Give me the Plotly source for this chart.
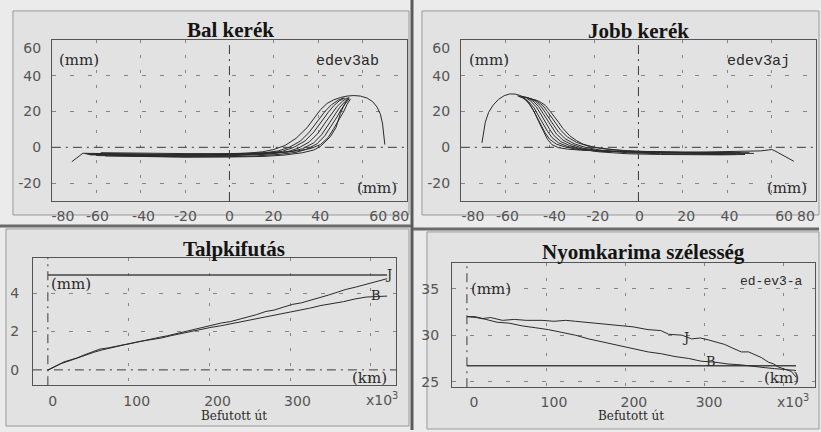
import plotly.graph_objects as go

W, H = 821, 432

# ---------------- Bal kerék: kerékprofilok (mm) ----------------
BAL_X1 = [-71, -68, -66, -60, -50, -40, -30, -20, -10, 0, 8, 15, 20, 25, 30, 35, 38, 41, 44, 47, 50, 53, 56, 59, 62, 64.5, 66.5, 68, 69, 69.6, 70]
BAL_Y1 = [-8, -5, -3.3, -3.5, -3.8, -4.0, -4.2, -4.3, -4.2, -3.9, -3.3, -2.5, -1.2, 1.0, 5.0, 11.0, 16.0, 21.0, 24.5, 26.5, 27.8, 28.6, 28.9, 28.6, 27.5, 25.5, 22.5, 18.5, 13.0, 7.0, 1.5]
BAL_X2 = [-65, -50, -30, -10, 5, 15, 22, 27, 32, 36, 40, 43, 46, 49, 51.5]
BAL_Y2 = [-3.6, -4.0, -4.4, -4.4, -4.0, -3.2, -2.0, 0.0, 3.5, 8.5, 15.0, 20.0, 23.8, 26.3, 27.6]
BAL_X3 = [-64, -50, -30, -10, 5, 15, 24, 29, 34, 38, 41.5, 44.5, 47, 49.5, 52]
BAL_Y3 = [-3.9, -4.3, -4.7, -4.7, -4.3, -3.6, -2.2, 0.0, 3.5, 8.5, 14.5, 19.5, 23.2, 26.0, 27.5]
BAL_X4 = [-63, -45, -25, -5, 8, 18, 26, 31, 36, 40, 43, 46, 48.5, 51, 53]
BAL_Y4 = [-4.2, -4.6, -5.0, -4.9, -4.5, -3.8, -2.5, -0.5, 3.0, 8.0, 13.5, 18.8, 22.8, 25.8, 27.6]
BAL_X5 = [-62, -45, -25, -5, 10, 20, 28, 33, 38, 41.5, 44.5, 47, 49.5, 52, 54]
BAL_Y5 = [-3.4, -3.8, -4.0, -4.1, -3.8, -3.3, -2.3, -0.8, 2.5, 7.0, 12.5, 17.5, 22.0, 25.5, 27.8]
BAL_X6 = [-60, -40, -20, 0, 12, 22, 30, 35, 39.5, 43, 46, 48.5, 50.5, 52.5, 54]
BAL_Y6 = [-4.6, -5.0, -5.3, -5.2, -4.8, -4.0, -2.8, -1.0, 2.0, 6.5, 12.0, 17.0, 21.5, 25.0, 27.2]
BAL_X7 = [-58, -40, -20, 0, 14, 24, 32, 37, 41, 44.5, 47, 49.5, 51.5, 53, 54.5]
BAL_Y7 = [-3.0, -3.3, -3.5, -3.5, -3.3, -2.8, -1.8, -0.5, 1.5, 5.5, 10.5, 15.5, 20.0, 24.0, 27.0]
BAL_X8 = [-56, -40, -20, 0, 15, 25, 33, 38, 41, 43.5, 45.5, 48, 50, 52, 53.6]
BAL_Y8 = [-4.8, -5.2, -5.5, -5.4, -5.1, -4.3, -3.0, -1.5, 0.5, 3.5, 6.0, 11.0, 19.0, 24.5, 28.0]

# ---------------- Jobb kerék: kerékprofilok (mm) ----------------
JOBB_X1 = [-70.5, -69.8, -69, -67.5, -65.5, -63, -60.5, -58, -55.5, -53, -51, -49, -47, -45, -43, -41, -39, -36, -32, -26, -15, 0, 15, 30, 45, 55, 58.5, 60, 61.5, 64, 67, 70]
JOBB_Y1 = [2.5, 8, 14, 19.5, 23.5, 26.8, 28.8, 29.8, 29.7, 28.8, 27.0, 24.0, 20.0, 14.5, 9.0, 4.5, 1.5, -0.2, -1.0, -1.6, -2.2, -2.5, -2.6, -2.6, -2.4, -2.0, -1.5, -1.2, -2.0, -3.8, -5.8, -7.8]
JOBB_X2 = [-54.5, -52, -50, -48, -46, -44, -42, -40, -37, -33, -28, -20, -5, 10, 25, 40, 52]
JOBB_Y2 = [28.8, 27.5, 25.5, 22.0, 17.5, 12.5, 8.0, 4.5, 1.8, 0.2, -1.0, -2.0, -2.8, -3.2, -3.4, -3.5, -3.4]
JOBB_X3 = [-54, -51.5, -49.5, -47, -45, -43, -41, -39, -36, -32, -27, -20, -5, 10, 25, 40, 50]
JOBB_Y3 = [28.5, 27.5, 25.5, 22.0, 17.5, 13.0, 9.0, 5.5, 2.5, 0.5, -0.8, -1.8, -2.5, -2.9, -3.1, -3.2, -3.0]
JOBB_X4 = [-53, -50.5, -48.5, -46, -44, -42, -40, -38, -35, -31, -26, -18, -5, 10, 25, 38, 48]
JOBB_Y4 = [28.6, 27.6, 25.8, 22.5, 18.5, 14.0, 10.0, 6.5, 3.2, 1.0, -0.8, -2.5, -3.6, -4.0, -4.2, -4.2, -4.0]
JOBB_X5 = [-52, -49.5, -47.5, -45, -43, -41, -39, -37, -34, -30, -25, -18, -5, 10, 25, 36, 46]
JOBB_Y5 = [28.4, 27.5, 25.8, 22.8, 19.0, 15.0, 11.0, 7.5, 4.0, 1.5, -0.5, -1.8, -2.6, -3.0, -3.1, -3.1, -3.0]
JOBB_X6 = [-51, -48.5, -46.5, -44, -42, -40, -38, -36, -33, -29, -24, -16, -5, 10, 22, 34, 44]
JOBB_Y6 = [28.0, 27.2, 25.8, 23.0, 19.5, 15.5, 12.0, 8.5, 4.8, 2.0, 0.0, -1.8, -3.0, -3.6, -3.9, -4.0, -3.9]
JOBB_X7 = [-50, -47.5, -45.5, -43, -41, -39, -37, -35, -32, -28, -23, -16, -5, 8, 20, 32, 42]
JOBB_Y7 = [27.5, 26.8, 25.6, 23.2, 20.0, 16.5, 13.0, 9.5, 5.8, 2.8, 0.8, -0.8, -2.0, -2.6, -2.9, -3.0, -3.0]
JOBB_X8 = [-49, -46.5, -44.5, -42, -40, -38, -36, -34, -31, -28, -25, -20, -10, 0, 12, 24, 38]
JOBB_Y8 = [27.0, 26.5, 25.5, 23.5, 20.5, 17.5, 14.0, 10.5, 6.5, 3.8, 1.8, 0.0, -1.5, -2.3, -2.8, -3.0, -3.1]

# ---------------- Talpkifutás (mm) a befutott út függvényében (x10^3 km) ----------------
TALP_J_KM = [0, 5, 12, 20, 28, 36, 45, 55, 64, 75, 85, 95, 101, 110, 120, 130, 138, 148, 158, 171, 180, 190, 204, 215, 226, 237, 248, 258, 270, 280, 292, 303, 314, 325, 336, 347, 358, 369, 381, 393, 402, 410, 416, 420]
TALP_J_MM = [0.0, 0.12, 0.25, 0.42, 0.5, 0.62, 0.78, 0.92, 1.08, 1.15, 1.25, 1.32, 1.36, 1.45, 1.55, 1.62, 1.7, 1.78, 1.88, 2.0, 2.1, 2.2, 2.36, 2.45, 2.52, 2.64, 2.78, 2.88, 3.05, 3.12, 3.28, 3.42, 3.5, 3.62, 3.78, 3.9, 4.05, 4.2, 4.32, 4.46, 4.55, 4.66, 4.72, 4.76]
TALP_B_KM = [0, 8, 16, 25, 35, 46, 57, 68, 80, 92, 104, 116, 128, 140, 152, 165, 178, 190, 202, 214, 226, 240, 254, 268, 282, 296, 310, 324, 338, 352, 366, 380, 394, 408, 420]
TALP_B_MM = [-0.02, 0.15, 0.32, 0.45, 0.6, 0.78, 0.92, 1.05, 1.18, 1.3, 1.4, 1.5, 1.58, 1.66, 1.78, 1.9, 2.02, 2.12, 2.22, 2.3, 2.4, 2.5, 2.6, 2.72, 2.86, 2.98, 3.08, 3.22, 3.36, 3.46, 3.56, 3.7, 3.8, 3.83, 3.85]
TALP_LIMIT_KM = [0, 420]
TALP_LIMIT_MM = [4.95, 4.95]

# ---------------- Nyomkarima szélesség (mm) ----------------
NYOM_J_KM = [0, 10, 20, 30, 45, 60, 75, 95, 110, 125, 137, 150, 163, 178, 196, 210, 229, 245, 255, 263, 272, 284, 295, 305, 315, 326, 336, 347, 356, 364, 372, 381, 388, 393, 402, 410, 416]
NYOM_J_MM = [32.0, 32.0, 31.8, 31.9, 31.6, 31.7, 31.6, 31.6, 31.5, 31.6, 31.5, 31.4, 31.3, 31.2, 31.0, 30.9, 30.6, 30.5, 30.1, 30.05, 30.0, 29.6, 29.7, 29.5, 29.3, 29.0, 28.6, 28.2, 28.2, 27.9, 27.6, 27.1, 26.9, 26.6, 26.3, 26.1, 25.5]
NYOM_B_KM = [0, 12, 24, 38, 53, 70, 87, 103, 120, 137, 154, 175, 196, 212, 229, 246, 263, 280, 296, 313, 330, 347, 364, 377, 389, 402, 416]
NYOM_B_MM = [32.0, 31.9, 31.7, 31.4, 31.3, 31.0, 30.8, 30.6, 30.3, 30.0, 29.6, 29.2, 28.8, 28.5, 28.2, 28.0, 27.7, 27.5, 27.2, 27.1, 26.9, 26.8, 26.6, 26.5, 26.4, 26.3, 26.2]
NYOM_LIMIT_KM = [0, 416]
NYOM_LIMIT_MM = [26.7, 26.7]

# ---------------- Feliratok ----------------
TITLES = ["Bal kerék", "Jobb kerék", "Talpkifutás", "Nyomkarima szélesség"]
CODES = ["edev3ab", "edev3aj", "ed-ev3-a"]
PROFILE_X_LABELS = ["-80", "-60", "-40", "-20", "0", "20", "40", "60", "80"]
PROFILE_Y_LABELS = ["60", "40", "20", "0", "-20"]
KM_X_LABELS = ["0", "100", "200", "300"]
TALP_Y_LABELS = ["4", "2", "0"]
NYOM_Y_LABELS = ["35", "30", "25"]


def fx(px):
    return px / W


def fy(py):
    return 1 - py / H


SERIF = "DejaVu Serif"
TITLE_SERIF = "Liberation Serif"
SANS = "DejaVu Sans"
MONO = "Liberation Mono"
INK = "#2a2a2a"
TICK_FONT = dict(family=SANS, size=14, color="#555555")
GRID_COLOR = "#858585"
H_DASH = "4px,14px"
V_DASH = "3px,12px"
CENTER_DASH = "9px,5px,2px,5px"

fig = go.Figure()

LINE = dict(color=INK, width=1)

bal = [(BAL_X1, BAL_Y1), (BAL_X2, BAL_Y2), (BAL_X3, BAL_Y3), (BAL_X4, BAL_Y4),
       (BAL_X5, BAL_Y5), (BAL_X6, BAL_Y6), (BAL_X7, BAL_Y7), (BAL_X8, BAL_Y8)]
jobb = [(JOBB_X1, JOBB_Y1), (JOBB_X2, JOBB_Y2), (JOBB_X3, JOBB_Y3), (JOBB_X4, JOBB_Y4),
        (JOBB_X5, JOBB_Y5), (JOBB_X6, JOBB_Y6), (JOBB_X7, JOBB_Y7), (JOBB_X8, JOBB_Y8)]

for xs, ys in bal:
    fig.add_trace(go.Scatter(x=xs, y=ys, mode="lines", line=LINE, xaxis="x", yaxis="y", hoverinfo="skip"))
for xs, ys in jobb:
    fig.add_trace(go.Scatter(x=xs, y=ys, mode="lines", line=LINE, xaxis="x2", yaxis="y2", hoverinfo="skip"))

fig.add_trace(go.Scatter(x=TALP_LIMIT_KM, y=TALP_LIMIT_MM, mode="lines", line=dict(color="#444", width=1.5), xaxis="x3", yaxis="y3"))
fig.add_trace(go.Scatter(x=TALP_B_KM, y=TALP_B_MM, mode="lines", line=LINE, xaxis="x3", yaxis="y3"))
fig.add_trace(go.Scatter(x=TALP_J_KM, y=TALP_J_MM, mode="lines", line=LINE, xaxis="x3", yaxis="y3"))

fig.add_trace(go.Scatter(x=NYOM_LIMIT_KM, y=NYOM_LIMIT_MM, mode="lines", line=dict(color="#444", width=1.5), xaxis="x4", yaxis="y4"))
fig.add_trace(go.Scatter(x=NYOM_B_KM, y=NYOM_B_MM, mode="lines", line=LINE, xaxis="x4", yaxis="y4"))
fig.add_trace(go.Scatter(x=NYOM_J_KM, y=NYOM_J_MM, mode="lines", line=LINE, xaxis="x4", yaxis="y4"))


def xaxis(dom, rng, tickvals, ticktext, gridvals, anchor, standoff):
    return dict(
        domain=[fx(dom[0]), fx(dom[1])], range=rng, anchor=anchor,
        tickmode="array", tickvals=tickvals, ticktext=ticktext,
        tickfont=TICK_FONT, ticks="", ticklabelstandoff=standoff,
        showgrid=False, zeroline=False,
        showline=True, mirror=True, linecolor="#555555", linewidth=1,
        minor=dict(tickmode="array", tickvals=gridvals, showgrid=True,
                   gridcolor=GRID_COLOR, griddash=V_DASH, gridwidth=1, ticks=""),
    )


def yaxis(dom, rng, tickvals, ticktext, gridvals, anchor, standoff):
    return dict(
        domain=[fy(dom[1]), fy(dom[0])], range=rng, anchor=anchor,
        tickmode="array", tickvals=tickvals, ticktext=ticktext,
        tickfont=TICK_FONT, ticks="", ticklabelstandoff=standoff,
        showgrid=False, zeroline=False,
        showline=True, mirror=True, linecolor="#555555", linewidth=1,
        minor=dict(tickmode="array", tickvals=gridvals, showgrid=True,
                   gridcolor=GRID_COLOR, griddash=H_DASH, gridwidth=1, ticks=""),
    )


prof_xpos_l = [-75, -59.5, -38.7, -19.8, 0, 19.8, 40.9, 67, 77]
prof_xpos_r = [-74.6, -59, -37.8, -18.4, 0.5, 21.5, 41, 65.6, 75.5]
prof_ypos = [55.5, 40, 20, 0, -20]

layout = dict(
    width=W, height=H, margin=dict(l=0, r=0, t=0, b=0),
    paper_bgcolor="#ebebeb", plot_bgcolor="#ffffff", showlegend=False,
    xaxis=xaxis((52, 408), [-80, 80], prof_xpos_l, PROFILE_X_LABELS, [-60, -40, -20, 20, 40, 60], "y", 2),
    yaxis=yaxis((40, 202), [-30, 60], prof_ypos, PROFILE_Y_LABELS, [40, 20, -20], "x", 7),
    xaxis2=xaxis((462, 818), [-80, 80], prof_xpos_r, PROFILE_X_LABELS, [-60, -40, -20, 20, 40, 60], "y2", 2),
    yaxis2=yaxis((40, 202), [-30, 60], prof_ypos, PROFILE_Y_LABELS, [40, 20, -20], "x2", 7),
    xaxis3=xaxis((33, 397), [-18.5, 431], [6, 110, 210, 309], KM_X_LABELS, [100, 200, 300, 400], "y3", 3),
    yaxis3=yaxis((259, 387), [-0.8, 5.85], [4, 2, 0], TALP_Y_LABELS, [2, 4], "x3", 10),
    xaxis4=xaxis((453, 817), [-19, 440], [9, 110, 211, 306], KM_X_LABELS, [100, 200, 300, 400], "y4", 2),
    yaxis4=yaxis((264, 389), [24.4, 37.8], [35, 30, 25], NYOM_Y_LABELS, [25, 30, 35], "x4", 9),
)
fig.update_layout(**layout)

shapes = []
# panel frames
for (x0, y0, x1, y1) in [(13, 11, 410, 216), (423, 11, 821, 216), (6, 230, 410, 428), (428, 233, 821, 431)]:
    shapes.append(dict(type="rect", xref="paper", yref="paper", x0=fx(x0), x1=fx(x1), y0=fy(y1), y1=fy(y0),
                       line=dict(color="#9a9a9a", width=1), fillcolor="#e2e2e2", layer="below"))
# divider lines between panels
shapes.append(dict(type="line", xref="paper", yref="paper", x0=fx(413), x1=fx(413), y0=0, y1=1,
                   line=dict(color="#5a5a5a", width=3)))
shapes.append(dict(type="line", xref="paper", yref="paper", x0=0, x1=fx(412), y0=fy(227), y1=fy(227),
                   line=dict(color="#6a6a6a", width=3)))
shapes.append(dict(type="line", xref="paper", yref="paper", x0=fx(414), x1=1, y0=fy(230), y1=fy(230),
                   line=dict(color="#6a6a6a", width=3)))

# dash-dot centre lines
for xa, ya, hz in [("x", "y", True), ("x2", "y2", True), ("x3", "y3", True), ("x4", "y4", False)]:
    shapes.append(dict(type="line", xref=xa, yref=ya + " domain", x0=0, x1=0, y0=0, y1=1,
                       line=dict(color="#3a3a3a", width=1, dash=CENTER_DASH)))
    if hz:
        shapes.append(dict(type="line", xref=xa + " domain", yref=ya, x0=0, x1=1, y0=0, y1=0,
                           line=dict(color="#3a3a3a", width=1, dash=CENTER_DASH)))
fig.update_layout(shapes=shapes)

ann = []


def text(t, x, y, family, size, color=INK, xanchor="center", weight="normal"):
    ann.append(dict(text=t, x=fx(x), y=fy(y), xref="paper", yref="paper", showarrow=False,
                    xanchor=xanchor, yanchor="middle",
                    font=dict(family=family, size=size, color=color, weight=weight)))


TITLE_INK = "#141414"
text(TITLES[0], 231, 30, TITLE_SERIF, 21, TITLE_INK, weight="bold")
text(TITLES[1], 640, 31, TITLE_SERIF, 21, TITLE_INK, weight="bold")
text(TITLES[2], 235, 250, TITLE_SERIF, 21, TITLE_INK, weight="bold")
text(TITLES[3], 645, 253, TITLE_SERIF, 21, TITLE_INK, weight="bold")

text("(mm)", 79, 60, SERIF, 15)
text(CODES[0], 348, 62, MONO, 15)
text("(mm)", 378, 189, SERIF, 15)

text("(mm)", 490, 60, SERIF, 15)
text(CODES[1], 760, 62, MONO, 15)
text("(mm)", 789, 189, SERIF, 15)

text("(mm)", 71, 285, SERIF, 15)
text("(km)", 370, 380, SERIF, 15)
text("x10<sup>3</sup>", 383, 401, SANS, 14, "#555555")
text("Befutott út", 235, 418, SERIF, 12)
text("J", 389, 276, SERIF, 13)
text("B", 377, 297, SERIF, 13)

text("(mm)", 492, 290, SERIF, 15)
text(CODES[2], 773, 283, MONO, 13)
text("(km)", 783, 380, SERIF, 15)
text("x10<sup>3</sup>", 795, 403, SANS, 14, "#555555")
text("Befutott út", 633, 418, SERIF, 12)
text("J", 687, 339, SERIF, 13)
text("B", 713, 363, SERIF, 13)

fig.update_layout(annotations=ann)
fig.write_html("out.html")
